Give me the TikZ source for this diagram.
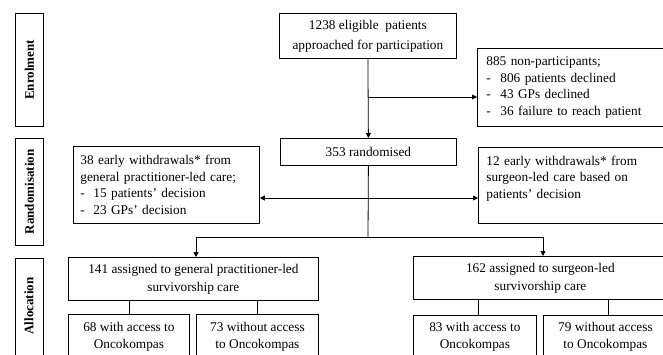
\documentclass[tikz,border=0pt]{standalone}
\usepackage{fontspec}
\setmainfont{Liberation Serif}
\usetikzlibrary{arrows.meta}
\begin{document}
\begin{tikzpicture}[x=1pt,y=-1pt,
  every node/.style={font=\fontsize{13.3}{16.5}\selectfont},
  box/.style={draw, line width=0.8pt, inner sep=0pt, anchor=north west},
  cbox/.style={box, align=center},
  side/.style={box, minimum width=28pt},
  sidetext/.style={rotate=90, font=\fontsize{13}{15}\selectfont\bfseries},
  conn/.style={line width=0.8pt},
  arr/.style={conn, -{Triangle[length=5pt,width=5pt]}},
]
\useasboundingbox (0,0) rectangle (663,355);
\clip (0,0) rectangle (663,355);
\fill[white] (0,0) rectangle (663,355);

% side boxes
\node[side, minimum height=113pt] (enr) at (15,13) {};
\node[sidetext] (enrT) at (enr.center) {Enrolment};
\node[side, minimum height=107pt] (ran) at (15,138) {};
\node[sidetext] (ranT) at (ran.center) {Randomisation};
\node[side, minimum height=120pt] (all) at (15,258) {};
\node[sidetext] (allT) at (29,306) {Allocation};

% boxes
\node[cbox, minimum width=177pt, minimum height=45pt, font=\fontsize{13.3}{20}\selectfont] (top) at (279,13)
  {1238 eligible \ patients\\approached for participation};
\node[box, minimum width=200pt, minimum height=78pt, align=left, inner xsep=9pt, text width=182pt] (np) at (477,48)
  {885 non-participants;\\
   \makebox[14pt][l]{-}806 patients declined\\
   \makebox[14pt][l]{-}43 GPs declined\\
   \makebox[14pt][l]{-}36 failure to reach patient};
\node[cbox, minimum width=176pt, minimum height=27pt] (rand) at (280,138) {353 randomised};
\node[box, minimum width=186pt, minimum height=77pt, align=left, inner xsep=7pt, text width=172pt] (wdL) at (73,146)
  {38 early withdrawals* from\\
   general practitioner-led care;\\
   \makebox[13pt][l]{-}15 patients’ decision\\
   \makebox[13pt][l]{-}23 GPs’ decision};
\node[box, minimum width=200pt, minimum height=76pt, align=left, inner xsep=8pt, text width=184pt] (wdR) at (478,147)
  {12 early withdrawals* from\\
   surgeon-led care based on\\
   patients’ decision\\ \mbox{}};
\node[cbox, minimum width=250pt, minimum height=43pt, font=\fontsize{13.3}{18}\selectfont] (alL) at (68,257)
  {141 assigned to general practitioner-led\\survivorship care};
\node[cbox, minimum width=254pt, minimum height=43pt, font=\fontsize{13.3}{18}\selectfont] (alR) at (413,256)
  {162 assigned to surgeon-led\\survivorship care};
\node[cbox, minimum width=121pt, minimum height=45pt, font=\fontsize{13.3}{17}\selectfont] (sL1) at (68,314)
  {68 with access to\\Oncokompas};
\node[cbox, minimum width=122pt, minimum height=45pt, font=\fontsize{13.3}{17}\selectfont] (sL2) at (196,314)
  {73 without access\\to Oncokompas};
\node[cbox, minimum width=123pt, minimum height=43pt, font=\fontsize{13.3}{17}\selectfont] (sR1) at (413,315)
  {83 with access to\\Oncokompas};
\node[cbox, minimum width=124pt, minimum height=43pt, font=\fontsize{13.3}{17}\selectfont] (sR2) at (543,315)
  {79 without access\\to Oncokompas};

% connectors
\coordinate (b1) at (368,97);
\coordinate (wd) at (368,198);
\coordinate (split) at (368,237);
\coordinate (aL) at (196,237);
\coordinate (aR) at (543,237);
\draw[arr] (top.south) -- (rand.north);
\draw[arr] (b1) -- (b1 -| np.west);
\draw[conn] (rand.south) -- (split);
\draw[arr] (wd) -- (wd -| wdL.east);
\draw[arr] (wd) -- (wd -| wdR.west);
\draw[arr] (split) -- (aL) -- (aL |- alL.north);
\draw[arr] (split) -- (aR) -- (aR |- alR.north);
\draw[conn] (sL1.north |- alL.south) -- (sL1.north);
\draw[conn] (sL2.north |- alL.south) -- (sL2.north);
\coordinate (cR1) at (478,299);
\coordinate (cR2) at (608,299);
\draw[conn] (cR1) -- (cR1 |- sR1.north);
\draw[conn] (cR2) -- (cR2 |- sR2.north);
\end{tikzpicture}
\end{document}
